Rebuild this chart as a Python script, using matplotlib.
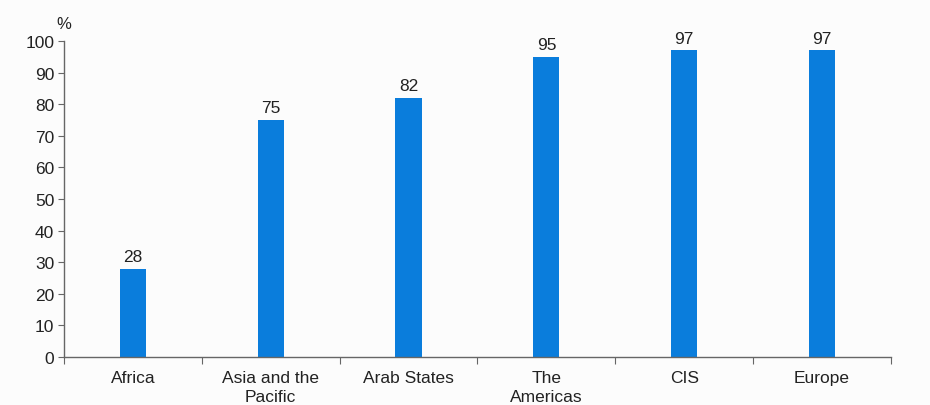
import matplotlib.pyplot as plt
import numpy as np

regions = ["Africa", "Asia and the\nPacific", "Arab States", "The\nAmericas", "CIS", "Europe"]
values = [28, 75, 82, 95, 97, 97]
yticks = [0, 10, 20, 30, 40, 50, 60, 70, 80, 90, 100]

BAR_COLOR = "#0a7ddc"
TEXT = "#222222"
AXIS = "#666666"

plt.rcParams["font.family"] = ["Liberation Sans", "DejaVu Sans"]

fig = plt.figure(figsize=(9.3, 4.06), dpi=100, facecolor="#fcfcfc")
ax = fig.add_axes([0.0688, 0.118, 0.8892, 0.7786])
ax.set_facecolor("#fcfcfc")

x = np.arange(len(regions))
ax.bar(x, values, width=0.19, color=BAR_COLOR)
for xi, v in zip(x, values):
    ax.text(xi, v + 1.5, str(v), ha="center", va="bottom", fontsize=12.5, color=TEXT)

ax.set_xlim(-0.5, len(regions) - 0.5)
ax.set_ylim(0, 100)
ax.set_yticks(yticks)
ax.set_yticklabels([str(t) for t in yticks], fontsize=12.5, color=TEXT)

# category labels centred, ticks on the boundaries between categories
ax.set_xticks(np.arange(len(regions) + 1) - 0.5)
ax.set_xticklabels([])
ax.set_xticks(x, minor=True)
ax.set_xticklabels(regions, minor=True, fontsize=12.5, color=TEXT, linespacing=1.35)
ax.tick_params(axis="x", which="minor", length=0, pad=9)
ax.tick_params(axis="x", which="major", length=5, color=AXIS, direction="out")
ax.tick_params(axis="y", length=4, color=AXIS, pad=3)

for side in ("top", "right"):
    ax.spines[side].set_visible(False)
for side in ("left", "bottom"):
    ax.spines[side].set_color(AXIS)
    ax.spines[side].set_linewidth(1.0)

ax.text(0.0, 1.03, "%", transform=ax.transAxes, fontsize=12, color=TEXT, ha="center", va="bottom")

fig.savefig("out.png", dpi=100, facecolor=fig.get_facecolor())
